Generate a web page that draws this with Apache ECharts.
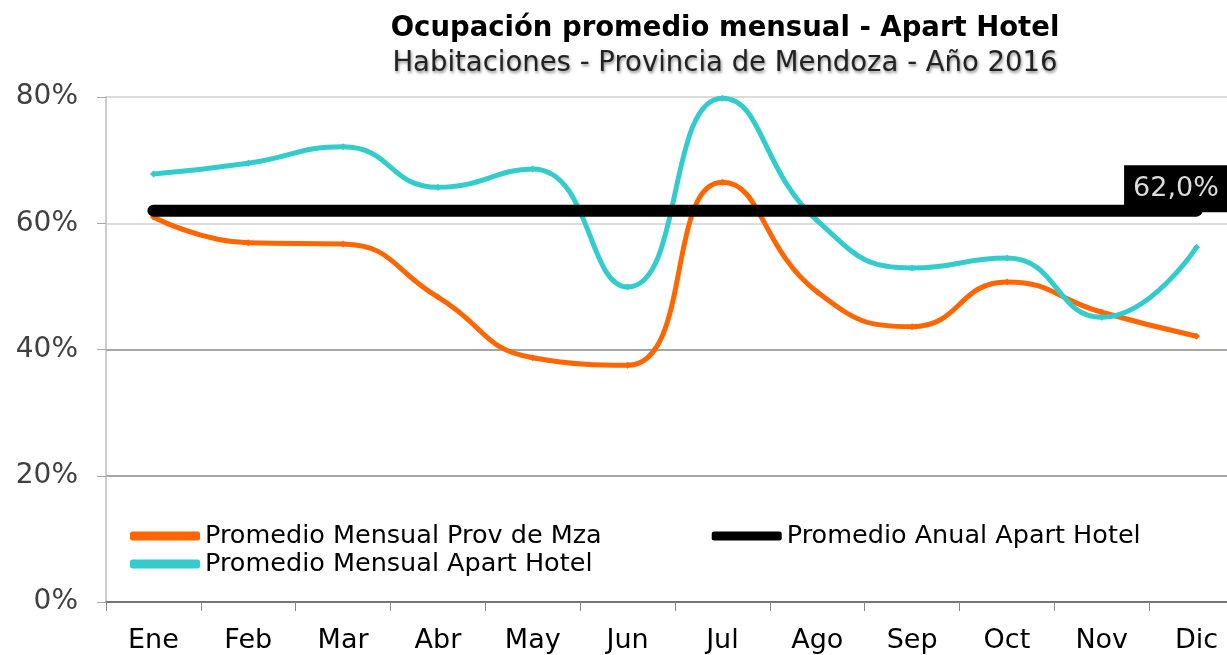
<!DOCTYPE html>
<html>
<head>
<meta charset="utf-8">
<script src="https://cdn.jsdelivr.net/npm/echarts@6/dist/echarts.min.js"></script>
<style>
html,body{margin:0;padding:0;background:#fff;overflow:hidden;}
#wrap{width:1227px;height:655px;overflow:hidden;position:relative;}
#chart{width:1260px;height:655px;}
</style>
</head>
<body>
<div id="wrap"><div id="chart"></div></div>
<script>
const months = ['Ene','Feb','Mar','Abr','May','Jun','Jul','Ago','Sep','Oct','Nov','Dic'];
const provMza = [61.0, 56.9, 56.7, 48.3, 38.7, 37.5, 66.5, 49.1, 43.6, 50.7, 45.9, 42.1];
const apartMensual = [67.8, 69.5, 72.1, 65.7, 68.6, 49.9, 79.8, 60.4, 52.9, 54.5, 45.1, 56.2];
const apartAnual = [62.0, 62.0, 62.0, 62.0, 62.0, 62.0, 62.0, 62.0, 62.0, 62.0, 62.0, 62.0];
const yTicks = [0, 20, 40, 60, 80];

const nameProv = 'Promedio Mensual Prov de Mza';
const nameAnual = 'Promedio Anual Apart Hotel';
const nameMensual = 'Promedio Mensual Apart Hotel';

const chart = echarts.init(document.getElementById('chart'), null, {renderer: 'canvas'});
const FONT = 'DejaVu Sans';

const anualData = apartAnual.map((v, i) => i === apartAnual.length - 1 ? {
  value: v,
  label: {
    show: true,
    formatter: () => v.toFixed(1).replace('.', ',') + '%',
    position: [-72, -45],
    backgroundColor: '#000',
    color: '#dcdcdc',
    fontFamily: FONT,
    fontSize: 27,
    padding: [10, 20, 10, 9]
  }
} : v);

chart.setOption({
  animation: false,
  backgroundColor: '#fff',
  title: [
    {
      text: 'Ocupación promedio mensual - Apart Hotel',
      left: 720, top: 10, textAlign: 'center',
      textStyle: {fontFamily: FONT, fontWeight: 'bold', fontSize: 27.5, color: '#000'}
    },
    {
      text: 'Habitaciones - Provincia de Mendoza - Año 2016',
      left: 720, top: 45, textAlign: 'center',
      textStyle: {fontFamily: FONT, fontWeight: 'normal', fontSize: 27.5, color: '#222',
        textShadowColor: 'rgba(0,0,0,0.45)', textShadowBlur: 3, textShadowOffsetX: 1, textShadowOffsetY: 2}
    }
  ],
  legend: [
    {
      data: [{name: nameProv}, {name: nameAnual, itemStyle: {color: '#000'}}],
      left: 125, top: 518, itemGap: 110, itemWidth: 70, itemHeight: 9,
      icon: 'roundRect',
      textStyle: {fontFamily: FONT, fontSize: 25.5, color: '#000'},
      selectedMode: false
    },
    {
      data: [{name: nameMensual}],
      left: 125, top: 546, itemWidth: 70, itemHeight: 9,
      icon: 'roundRect',
      textStyle: {fontFamily: FONT, fontSize: 25.5, color: '#000'},
      selectedMode: false
    }
  ],
  grid: {left: 106, top: 97, width: 1138, height: 505, containLabel: false},
  xAxis: {
    type: 'category',
    data: months,
    boundaryGap: true,
    axisLine: {show: true, lineStyle: {color: '#666', width: 1.5}},
    axisTick: {show: true, length: 9, lineStyle: {color: '#888'}},
    axisLabel: {fontFamily: FONT, fontSize: 27, color: '#000', margin: 25},
    splitLine: {show: false}
  },
  yAxis: {
    type: 'value',
    min: yTicks[0], max: yTicks[yTicks.length - 1], interval: 20,
    axisLine: {show: true, lineStyle: {color: '#bbb', width: 1.5}},
    axisTick: {show: true, length: 9, lineStyle: {color: '#aaa'}},
    axisLabel: {fontFamily: FONT, fontSize: 28, color: '#404040', margin: 28, formatter: '{value}%'},
    splitLine: {show: true, lineStyle: {color: ['#888', '#888', '#888', '#d0d0d0', '#d0d0d0'], width: 1.5}}
  },
  series: [
    {
      name: nameProv, type: 'line', data: provMza, smooth: 0.5,
      symbol: 'diamond', symbolSize: 7, showSymbol: true,
      itemStyle: {color: '#ff6600'},
      lineStyle: {color: '#ff6600', width: 5},
      z: 2
    },
    {
      name: nameMensual, type: 'line', data: apartMensual, smooth: 0.5,
      symbol: 'diamond', symbolSize: 7, showSymbol: true,
      itemStyle: {color: '#33cccc'},
      lineStyle: {color: '#33cccc', width: 5},
      z: 3
    },
    {
      name: nameAnual, type: 'line', data: anualData,
      symbol: 'circle', symbolSize: 1, showSymbol: true,
      itemStyle: {color: '#000'},
      lineStyle: {color: '#000', width: 12, cap: 'round'},
      z: 4
    }
  ]
});
</script>
</body>
</html>
